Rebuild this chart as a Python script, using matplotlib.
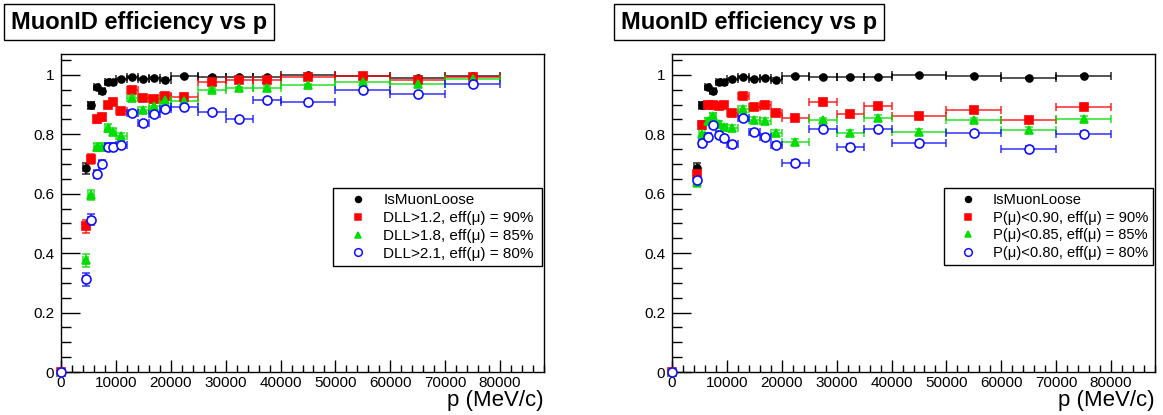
import matplotlib
matplotlib.use("Agg")
import matplotlib.pyplot as plt
from matplotlib.lines import Line2D
from matplotlib.ticker import MultipleLocator, FuncFormatter
import numpy as np

plt.rcParams['font.family'] = ['Liberation Sans', 'DejaVu Sans']

# ---------------- data ----------------
p_centers = [0, 4500, 5500, 6500, 7500, 8500, 9500, 11000, 13000, 15000, 17000, 19000,
             22500, 27500, 32500, 37500, 45000, 55000, 65000, 75000]
p_halfwidth = [0, 500, 500, 500, 500, 500, 500, 1000, 1000, 1000, 1000, 1000,
               2500, 2500, 2500, 2500, 5000, 5000, 5000, 5000]

eff_loose = [0.0, 0.685, 0.897, 0.958, 0.945, 0.975, 0.975, 0.985, 0.993, 0.985, 0.990, 0.984,
             0.996, 0.993, 0.993, 0.991, 1.000, 0.997, 0.989, 0.997]
err_loose = [0.0, 0.018, 0.012, 0.006, 0.006, 0.005, 0.005, 0.004, 0.003, 0.004, 0.004, 0.004,
             0.003, 0.003, 0.003, 0.003, 0.002, 0.002, 0.003, 0.002]

# left panel: DLL cuts
eff_dll12 = [0.0, 0.490, 0.716, 0.851, 0.857, 0.899, 0.907, 0.879, 0.950, 0.922, 0.917, 0.930,
             0.926, 0.977, 0.982, 0.983, 0.993, 0.997, 0.982, 0.993]
err_dll12 = [0.0, 0.022, 0.017, 0.012, 0.012, 0.010, 0.010, 0.008, 0.007, 0.007, 0.007, 0.007,
             0.005, 0.005, 0.005, 0.005, 0.004, 0.004, 0.005, 0.005]
eff_dll18 = [0.0, 0.376, 0.597, 0.756, 0.758, 0.821, 0.809, 0.795, 0.921, 0.883, 0.896, 0.916,
             0.913, 0.950, 0.955, 0.957, 0.966, 0.977, 0.969, 0.985]
err_dll18 = [0.0, 0.022, 0.017, 0.013, 0.013, 0.012, 0.012, 0.010, 0.008, 0.008, 0.008, 0.008,
             0.006, 0.005, 0.005, 0.005, 0.004, 0.004, 0.005, 0.005]
eff_dll21 = [0.0, 0.312, 0.513, 0.667, 0.700, 0.758, 0.758, 0.765, 0.872, 0.837, 0.868, 0.886,
             0.890, 0.876, 0.851, 0.916, 0.907, 0.949, 0.935, 0.969]
err_dll21 = [0.0, 0.022, 0.018, 0.014, 0.014, 0.013, 0.013, 0.011, 0.009, 0.009, 0.009, 0.008,
             0.006, 0.006, 0.006, 0.006, 0.005, 0.005, 0.005, 0.005]

# right panel: P(mu) cuts
eff_p90 = [0.0, 0.665, 0.830, 0.897, 0.897, 0.895, 0.898, 0.870, 0.927, 0.890, 0.898, 0.871,
           0.855, 0.909, 0.868, 0.896, 0.860, 0.880, 0.848, 0.893]
err_p90 = [0.0, 0.018, 0.014, 0.010, 0.010, 0.010, 0.010, 0.009, 0.008, 0.008, 0.008, 0.008,
           0.008, 0.007, 0.008, 0.008, 0.008, 0.007, 0.009, 0.010]
eff_p85 = [0.0, 0.640, 0.802, 0.845, 0.862, 0.833, 0.825, 0.821, 0.885, 0.848, 0.845, 0.804,
           0.773, 0.848, 0.804, 0.854, 0.809, 0.848, 0.815, 0.851]
err_p85 = [0.0, 0.018, 0.014, 0.011, 0.011, 0.011, 0.011, 0.010, 0.009, 0.009, 0.009, 0.009,
           0.010, 0.008, 0.009, 0.010, 0.010, 0.008, 0.010, 0.010]
eff_p80 = [0.0, 0.645, 0.771, 0.792, 0.832, 0.798, 0.787, 0.766, 0.854, 0.807, 0.792, 0.764,
           0.703, 0.818, 0.757, 0.818, 0.772, 0.804, 0.751, 0.801]
err_p80 = [0.0, 0.018, 0.015, 0.012, 0.012, 0.012, 0.012, 0.011, 0.009, 0.010, 0.010, 0.010,
           0.011, 0.009, 0.009, 0.010, 0.010, 0.008, 0.010, 0.011]

title_text = "MuonID efficiency vs p"
xlabel_text = "p (MeV/c)"
labels_left = ["IsMuonLoose", "DLL>1.2, eff(\u03bc) = 90%", "DLL>1.8, eff(\u03bc) = 85%",
               "DLL>2.1, eff(\u03bc) = 80%"]
labels_right = ["IsMuonLoose", "P(\u03bc)<0.90, eff(\u03bc) = 90%", "P(\u03bc)<0.85, eff(\u03bc) = 85%",
                "P(\u03bc)<0.80, eff(\u03bc) = 80%"]

# ---------------- styles ----------------
styles = [
    dict(marker='o', color='black', mfc='black', ms=5.0),
    dict(marker='s', color='#ff0000', mfc='#ff0000', ms=5.6),
    dict(marker='^', color='#00dd00', mfc='#00dd00', ms=5.6),
    dict(marker='o', color='#1010ff', mfc='white', ms=6.5),
]

W, H = 1163, 415
fig = plt.figure(figsize=(W / 100, H / 100), dpi=100)

def px_axes(x0, y0, x1, y1):
    return fig.add_axes([x0 / W, 1 - y1 / H, (x1 - x0) / W, (y1 - y0) / H])

def draw_panel(ax, series, labels, title_x, legfs):
    for (eff, err), st, lab in zip(series, styles, labels):
        ax.errorbar(p_centers, eff, xerr=p_halfwidth, yerr=err, fmt='none',
                    ecolor=st['color'], elinewidth=1.1, capsize=3, capthick=1.1,
                    alpha=0.85, zorder=2)
        ax.plot(p_centers, eff, linestyle='none', marker=st['marker'], color=st['color'],
                mfc=st['mfc'], mec=st['color'], ms=st['ms'], mew=1.2, zorder=3,
                clip_on=False)
    ax.set_xlim(0, 88000)
    ax.set_ylim(0, 1.07)
    ax.xaxis.set_major_locator(MultipleLocator(10000))
    ax.xaxis.set_minor_locator(MultipleLocator(2000))
    ax.yaxis.set_major_locator(MultipleLocator(0.2))
    ax.yaxis.set_minor_locator(MultipleLocator(0.05))
    ax.yaxis.set_major_formatter(FuncFormatter(lambda v, pos: "%g" % round(v, 2)))
    ax.xaxis.set_major_formatter(FuncFormatter(lambda v, pos: "%d" % int(round(v))))
    ax.tick_params(axis='x', which='major', direction='in', length=9, width=1,
                   labelsize=11, pad=3, top=False)
    ax.tick_params(axis='x', which='minor', direction='in', length=5, width=1, top=False)
    ax.tick_params(axis='y', which='major', direction='in', length=14, width=1,
                   labelsize=11, pad=5, right=False)
    ax.tick_params(axis='y', which='minor', direction='in', length=7, width=1, right=False)
    for s in ax.spines.values():
        s.set_linewidth(1.0)
    ax.set_xlabel(xlabel_text, loc='right', fontsize=16, labelpad=0)
    handles = [Line2D([], [], linestyle='none', marker=st['marker'], color=st['color'],
                      mfc=st['mfc'], mec=st['color'], ms=st['ms'] * 0.85, mew=1.1)
               for st in styles]
    leg = ax.legend(handles, labels, loc='upper left',
                    bbox_to_anchor=(0.563, 0.0, 0.433, 0.579), mode='expand',
                    borderaxespad=0, fontsize=legfs, frameon=True, fancybox=False,
                    edgecolor='black', framealpha=1, handlelength=2.6,
                    handletextpad=0.35, borderpad=0.35, labelspacing=0.25)
    leg.get_frame().set_linewidth(1.0)
    fig.text(title_x / W, 1 - 22 / H, title_text, fontsize=17, fontweight='bold',
             va='center', ha='left',
             bbox=dict(boxstyle='square,pad=0.28', fc='white', ec='black', lw=1.0))

axL = px_axes(61, 54, 544, 372)
draw_panel(axL, [(eff_loose, err_loose), (eff_dll12, err_dll12),
                 (eff_dll18, err_dll18), (eff_dll21, err_dll21)], labels_left, 11, 11)
axR = px_axes(672, 54, 1155, 372)
draw_panel(axR, [(eff_loose, err_loose), (eff_p90, err_p90),
                 (eff_p85, err_p85), (eff_p80, err_p80)], labels_right, 621, 10.6)

fig.savefig("out.png", dpi=100)
